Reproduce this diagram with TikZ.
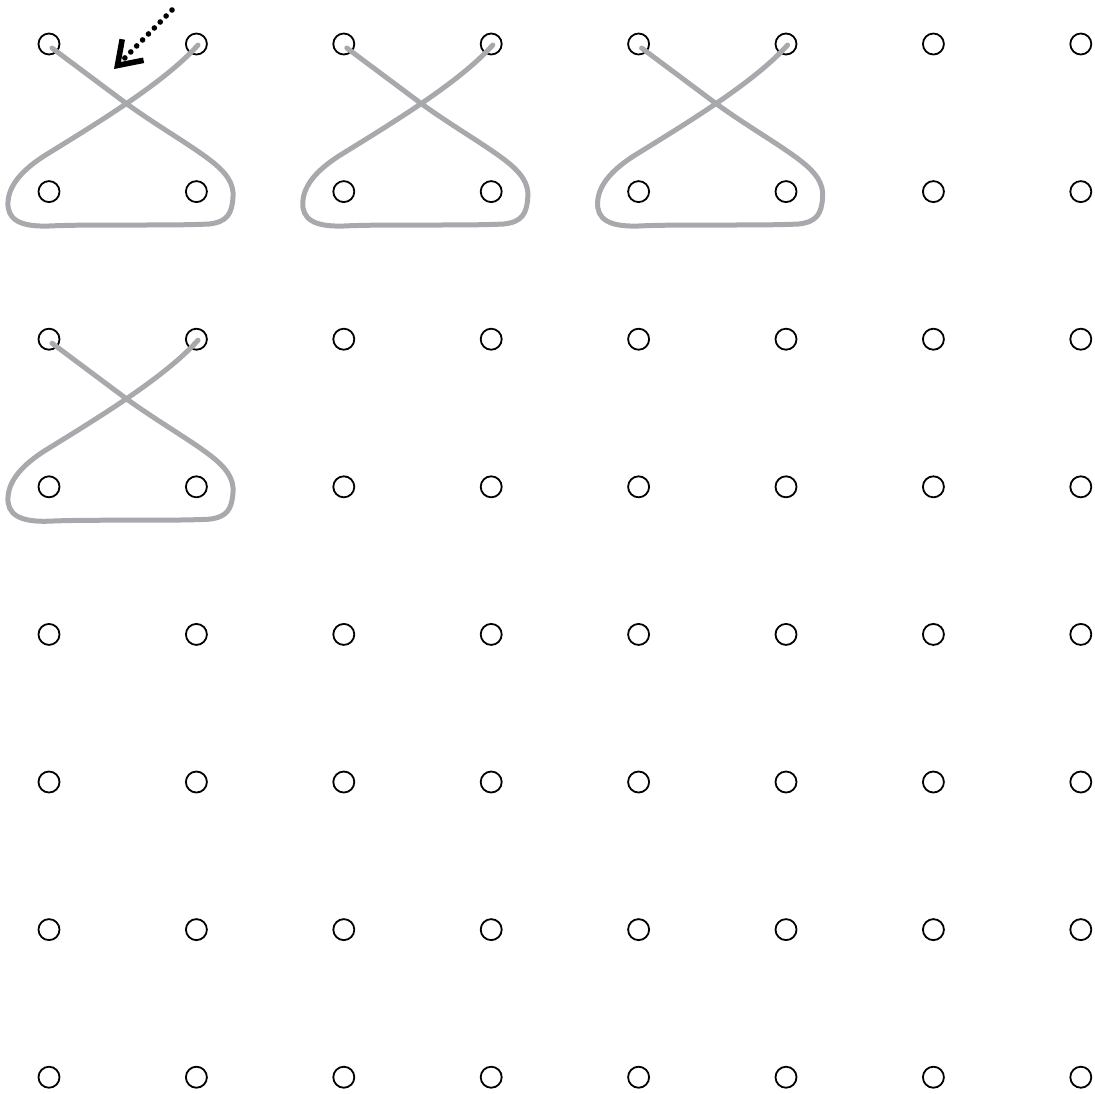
\documentclass[tikz,border=0pt]{standalone}
\usepackage{tikz}
\usetikzlibrary{arrows.meta}
\definecolor{lacegray}{HTML}{A7A9AC}

\begin{document}
\begin{tikzpicture}[x=0.5pt,y=-0.5pt,
    peg/.style={circle,draw,line width=0.9pt,minimum size=10.5pt,inner sep=0pt},
    lace/.style={draw=lacegray,line width=2.5pt,line cap=round,line join=round},
    hint/.style={line width=2.8pt,line cap=round,dash pattern=on 0pt off 4.2pt,
      -{Straight Barb[length=11pt,width=15pt,line width=2.8pt]}}
  ]
    \useasboundingbox (0,0) rectangle (1095,1093);
    % pegs
    \foreach \c in {0,...,7}
      \foreach \r in {0,...,7}
        \node[peg] (p\c\r) at ({49+147.4*\c},{44+147.6*\r}) {};
    % laces
    \foreach \t in {00,20,40,02}{
      \begin{scope}[shift={(p\t.center)}]
        \draw[lace] (3,4) -- (78,60) .. controls (110,83) and (140,100) .. (161,116)
          .. controls (178,129) and (185,140) .. (184,153)
          .. controls (183,170) and (178,178) .. (160,180)
          .. controls (120,182) and (40,180) .. (0,182)
          .. controls (-30,183) and (-42,175) .. (-41,158)
          .. controls (-40,140) and (-25,125) .. (-5,112)
          .. controls (50,78) and (116,38) .. (149,1);
      \end{scope}
    }
    % hint arrow
    \coordinate (hintfrom) at (172,10);
    \coordinate (hintto) at (114,69);
    \draw[hint] (hintfrom) -- (hintto);
  \end{tikzpicture}
\end{document}
